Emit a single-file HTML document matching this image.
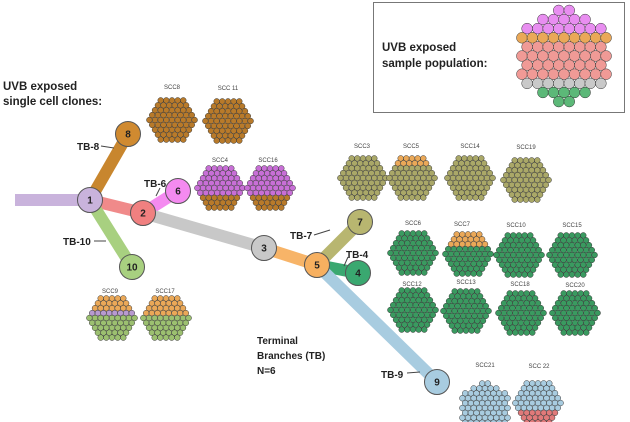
<!DOCTYPE html>
<html><head><meta charset="utf-8"><style>
html,body{margin:0;padding:0;background:#fff;width:630px;height:422px;overflow:hidden}
svg{display:block}
.b{font-family:"Liberation Sans",sans-serif;font-weight:bold;fill:#222}
.s{font-family:"Liberation Sans",sans-serif;font-size:6px;fill:#444;text-anchor:middle}
.n{font-family:"Liberation Sans",sans-serif;font-weight:bold;font-size:10px;fill:#222;text-anchor:middle}
</style></head><body>
<svg id="g" width="630" height="422" viewBox="0 0 630 422" xmlns="http://www.w3.org/2000/svg">
<rect x="373.5" y="2.5" width="251" height="110" fill="#fff" stroke="#777" stroke-width="1"/>
<text class="b" x="382" y="51" font-size="11.5">UVB exposed</text>
<text class="b" x="382" y="67" font-size="11.5">sample population:</text>
<text class="b" x="3" y="90" font-size="11.5">UVB exposed</text>
<text class="b" x="3" y="105" font-size="11.5">single cell clones:</text>
<g stroke-linecap="butt" stroke-width="12" fill="none">
<line x1="15" y1="200" x2="90" y2="200" stroke="#c9b3dc"/>
<line x1="90" y1="200" x2="128" y2="134" stroke="#c8862e"/>
<line x1="90" y1="200" x2="143" y2="213" stroke="#f08a8a"/>
<line x1="143" y1="213" x2="178" y2="191" stroke="#f48af0"/>
<line x1="90" y1="200" x2="132" y2="267" stroke="#a8d080"/>
<line x1="143" y1="213" x2="264" y2="248" stroke="#c8c8c8"/>
<line x1="264" y1="248" x2="317" y2="265" stroke="#f7b468"/>
<line x1="317" y1="265" x2="360" y2="222" stroke="#b8b670"/>
<line x1="317" y1="265" x2="358" y2="273" stroke="#3aa870"/>
<line x1="317" y1="265" x2="437" y2="382" stroke="#a8cce0"/>
</g>
<g stroke="#444" stroke-width="1">
<line x1="101" y1="146" x2="114" y2="148"/><line x1="160" y1="188" x2="156" y2="196"/>
<line x1="94" y1="241" x2="106" y2="241"/><line x1="314" y1="235" x2="330" y2="230"/>
<line x1="348" y1="257" x2="344" y2="266"/><line x1="407" y1="373" x2="420" y2="372"/>
</g>
<text class="b" x="77" y="150" font-size="10">TB-8</text>
<text class="b" x="144" y="187" font-size="10">TB-6</text>
<text class="b" x="63" y="245" font-size="10">TB-10</text>
<text class="b" x="290" y="239" font-size="10">TB-7</text>
<text class="b" x="346" y="258" font-size="10">TB-4</text>
<text class="b" x="381" y="378" font-size="10">TB-9</text>
<text class="b" x="257" y="344" font-size="10">Terminal</text>
<text class="b" x="257" y="359" font-size="10">Branches (TB)</text>
<text class="b" x="257" y="374" font-size="10">N=6</text>
<g id="nodes" stroke="#555" stroke-width="1"></g>
<g id="cl"></g>
<text class="s" x="172" y="89">SCC8</text><text class="s" x="228" y="90">SCC 11</text>
<text class="s" x="220" y="162">SCC4</text><text class="s" x="268" y="162">SCC16</text>
<text class="s" x="110" y="293">SCC9</text><text class="s" x="165" y="293">SCC17</text>
<text class="s" x="362" y="148">SCC3</text><text class="s" x="411" y="148">SCC5</text>
<text class="s" x="470" y="148">SCC14</text><text class="s" x="526" y="149">SCC19</text>
<text class="s" x="413" y="225">SCC6</text><text class="s" x="462" y="226">SCC7</text>
<text class="s" x="516" y="227">SCC10</text><text class="s" x="572" y="227">SCC15</text>
<text class="s" x="412" y="286">SCC12</text><text class="s" x="466" y="284">SCC13</text>
<text class="s" x="520" y="286">SCC18</text><text class="s" x="575" y="287">SCC20</text>
<text class="s" x="485" y="367">SCC21</text><text class="s" x="539" y="368">SCC 22</text>
</svg>
<script>
var NS="http://www.w3.org/2000/svg";
function el(p,t,a){var e=document.createElementNS(NS,t);for(var k in a)e.setAttribute(k,a[k]);p.appendChild(e);return e;}
var nodes=[[90,200,"1","#c9b3dc"],[128,134,"8","#d08a30"],[178,191,"6","#f48af0"],[143,213,"2","#f08080"],[132,267,"10","#a8d080"],[264,248,"3","#c8c8c8"],[317,265,"5","#f7b060"],[360,222,"7","#b8b670"],[358,273,"4","#3aa870"],[437,382,"9","#a8cce0"]];
var ng=document.getElementById("nodes");
nodes.forEach(function(n){el(ng,"circle",{cx:n[0],cy:n[1],r:12.5,fill:n[3]});var t=el(ng,"text",{x:n[0],y:n[1]+3.5,"class":"n",stroke:"none"});t.textContent=n[2];});
var cg=document.getElementById("cl");
function cluster(cx,cy,R,r,bands){
 var d=r*1.95,h=d*0.866,n=Math.ceil(R/h);
 for(var j=-n;j<=n;j++){var y=j*h;for(var i=-n-1;i<=n+1;i++){var xx=i*d+((j&1)?d/2:0);if(xx*xx+y*y>(R-r)*(R-r))continue;
  var f=(y+R)/(2*R),c=bands[bands.length-1][1];for(var k=0;k<bands.length;k++){if(f<=bands[k][0]){c=bands[k][1];break;}}
  el(cg,"circle",{cx:(cx+xx).toFixed(1),cy:(cy+y).toFixed(1),r:r,fill:c,stroke:"#333","stroke-width":0.5});}}
}
var BR="#b87a2a",PU="#c86fd6",OR="#eaa858",GR="#3a9a60",LG="#9cc070",OL="#aaa868",BL="#a8cce0",RD="#e07a7a",LV="#b89ad0";
cluster(172,120,27,2.9,[[1,BR]]);
cluster(228,121,27,2.9,[[1,BR]]);
cluster(220,188,27,2.9,[[0.68,PU],[1,BR]]);
cluster(270,188,27,2.9,[[0.68,PU],[1,BR]]);
cluster(112,318,26,2.9,[[0.35,OR],[0.48,LV],[1,LG]]);
cluster(166,318,27,2.9,[[0.42,OR],[1,LG]]);
cluster(363,178,26,2.9,[[1,OL]]);
cluster(412,178,26,2.9,[[0.28,OR],[0.9,OL],[1,GR]]);
cluster(470,178,26,2.9,[[0.92,OL],[1,GR]]);
cluster(526,180,26,2.9,[[1,OL]]);
cluster(413,253,27,2.9,[[0.12,OL],[1,GR]]);
cluster(468,254,27,2.9,[[0.38,OR],[1,GR]]);
cluster(519,255,27,2.9,[[0.12,OL],[1,GR]]);
cluster(572,255,27,2.9,[[1,GR]]);
cluster(413,310,27,2.9,[[0.06,OL],[1,GR]]);
cluster(466,311,27,2.9,[[1,GR]]);
cluster(521,313,27,2.9,[[1,GR]]);
cluster(575,313,27,2.9,[[1,GR]]);
cluster(485,408,28,2.9,[[0.9,BL],[1,GR]]);
cluster(538,403,26,2.9,[[0.62,BL],[1,RD]]);
cluster(564,56,52,5.4,[[0.3,"#e88ef0"],[0.37,OR],[0.68,"#f09a96"],[0.84,"#c9c9c9"],[1,"#5cb878"]]);
</script>
</body></html>
